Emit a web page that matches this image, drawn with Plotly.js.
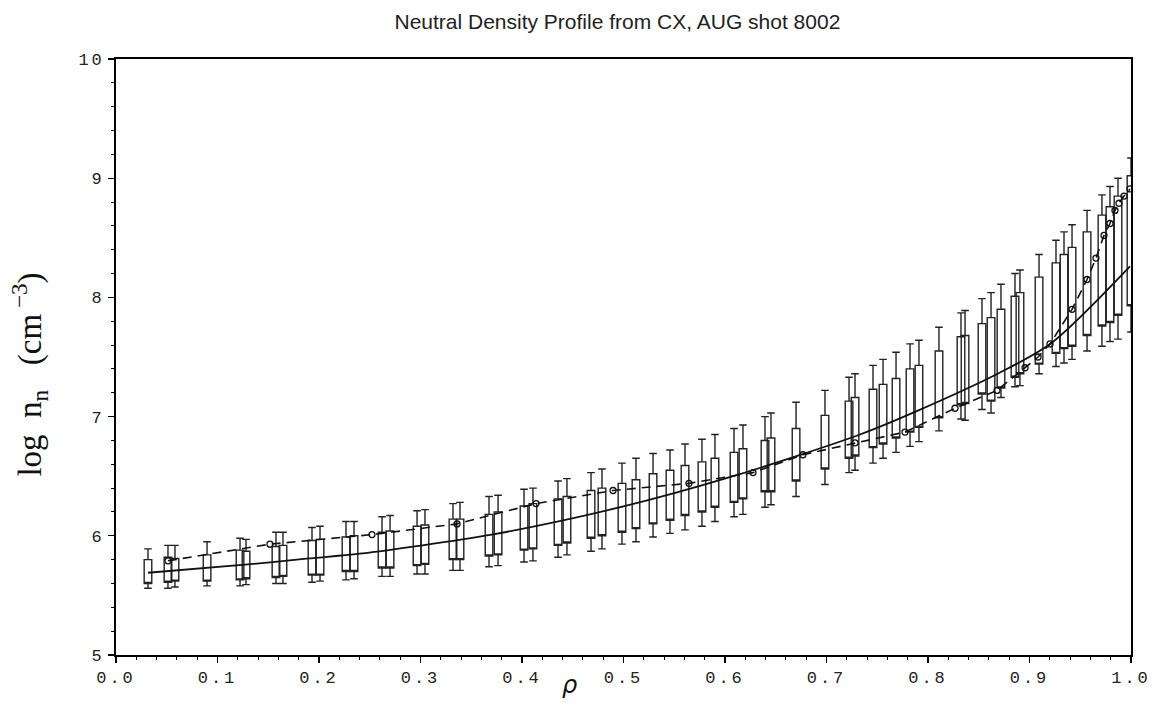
<!DOCTYPE html>
<html><head><meta charset="utf-8">
<script src="https://cdn.plot.ly/plotly-3.0.1.min.js"></script>
<style>body{margin:0;background:#fff}#chart{width:1152px;height:703px}</style>
</head><body><div id="chart"></div>
<script>
// Box positions (rho) and statistics (log n_n)
const boxRho = [0.0315,0.0512,0.0581,0.0897,0.1222,0.1281,0.1576,0.1645,0.1931,0.2010,
  0.2266,0.2345,0.2621,0.2700,0.2966,0.3044,0.3320,0.3389,0.3675,0.3764,
  0.4020,0.4108,0.4355,0.4443,0.4680,0.4788,0.4985,0.5123,0.5291,0.5458,
  0.5606,0.5773,0.5901,0.6089,0.6177,0.6394,0.6453,0.6700,0.6985,0.7222,
  0.7281,0.7458,0.7557,0.7685,0.7823,0.7911,0.8108,0.8325,0.8365,0.8532,
  0.8621,0.8719,0.8857,0.8906,0.9094,0.9261,0.9340,0.9419,0.9567,0.9714,
  0.9793,0.9872,1.0000];
const boxQ3 = [5.80,5.82,5.81,5.84,5.88,5.87,5.91,5.92,5.96,5.97,
  5.99,6.00,6.03,6.04,6.08,6.09,6.14,6.14,6.18,6.20,
  6.25,6.27,6.31,6.33,6.38,6.40,6.44,6.47,6.52,6.55,
  6.59,6.62,6.65,6.70,6.73,6.80,6.82,6.90,7.01,7.13,
  7.16,7.23,7.27,7.32,7.40,7.43,7.55,7.67,7.68,7.78,
  7.83,7.90,8.01,8.04,8.17,8.29,8.36,8.42,8.55,8.69,
  8.76,8.85,9.02];
const boxQ1 = [5.60,5.61,5.62,5.62,5.63,5.64,5.65,5.66,5.67,5.67,
  5.70,5.70,5.73,5.73,5.75,5.76,5.80,5.80,5.83,5.84,
  5.88,5.89,5.92,5.94,5.98,6.00,6.03,6.06,6.10,6.13,
  6.17,6.20,6.24,6.28,6.31,6.37,6.37,6.46,6.56,6.65,
  6.67,6.74,6.77,6.82,6.87,6.91,6.99,7.10,7.11,7.19,
  7.13,7.24,7.33,7.36,7.44,7.53,7.57,7.59,7.68,7.76,
  7.79,7.85,7.93];
const boxHi = [5.89,5.92,5.92,5.95,5.98,5.97,6.03,6.03,6.07,6.08,
  6.12,6.12,6.16,6.17,6.21,6.22,6.27,6.28,6.33,6.34,
  6.39,6.40,6.46,6.48,6.53,6.56,6.61,6.65,6.69,6.72,
  6.77,6.81,6.85,6.90,6.93,7.00,7.03,7.12,7.22,7.33,
  7.36,7.43,7.48,7.54,7.61,7.64,7.75,7.87,7.89,7.99,
  8.04,8.11,8.20,8.23,8.36,8.48,8.55,8.61,8.73,8.86,
  8.93,9.00,9.17];
const boxLo = [5.56,5.56,5.57,5.58,5.58,5.59,5.60,5.60,5.61,5.62,
  5.63,5.64,5.66,5.66,5.68,5.68,5.71,5.71,5.74,5.75,
  5.78,5.79,5.82,5.84,5.87,5.89,5.93,5.95,5.99,6.02,
  6.05,6.08,6.12,6.16,6.18,6.24,6.26,6.33,6.43,6.53,
  6.55,6.61,6.65,6.70,6.75,6.79,6.88,6.98,6.97,7.06,
  7.03,7.16,7.25,7.26,7.36,7.42,7.45,7.48,7.55,7.59,
  7.63,7.65,7.71];

// Dashed profile with circle markers
const dashRho = [0.0512,0.1517,0.2522,0.3360,0.4138,0.4897,0.5645,0.6276,0.6768,0.7281,
  0.7773,0.8266,0.8680,0.8956,0.9084,0.9202,0.9419,0.9567,0.9655,0.9734,
  0.9793,0.9842,0.9882,0.9931,0.9990];
const dashVal = [5.79,5.93,6.01,6.10,6.27,6.38,6.44,6.53,6.68,6.78,
  6.87,7.07,7.22,7.41,7.50,7.61,7.90,8.15,8.33,8.52,
  8.62,8.73,8.79,8.85,8.91];

// Solid fitted profile
const fitRho = [0.0315,0.13,0.19,0.24,0.37,0.497,0.608,0.733,0.79,0.871,0.922,0.999];
const fitVal = [5.69,5.76,5.81,5.85,6.01,6.24,6.50,6.85,7.05,7.37,7.62,8.26];

const xTickVals = [0,0.1,0.2,0.3,0.4,0.5,0.6,0.7,0.8,0.9,1.0];
const xTickText = ["0.0","0.1","0.2","0.3","0.4","0.5","0.6","0.7","0.8","0.9","1.0"];
const yTickVals = [5,6,7,8,9,10];
const yTickText = ["5","6","7","8","9","10"];

const traces = [
  {
    type: 'box', x: boxRho, q1: boxQ1, median: boxQ1, q3: boxQ3,
    lowerfence: boxLo, upperfence: boxHi,
    width: 0.0075, whiskerwidth: 1, boxpoints: false,
    fillcolor: 'rgba(0,0,0,0)', line: {color: '#222', width: 1.4},
    showlegend: false, hoverinfo: 'skip'
  },
  {
    type: 'scatter', mode: 'lines', x: fitRho, y: fitVal,
    line: {color: '#111', width: 1.8, shape: 'spline', smoothing: 0.8},
    showlegend: false
  },
  {
    type: 'scatter', mode: 'lines+markers', x: dashRho, y: dashVal,
    line: {color: '#111', width: 1.6, dash: '9px,6px'},
    marker: {symbol: 'circle-open', size: 6, color: '#111', line: {width: 1.3}},
    showlegend: false
  }
];

const tickFont = {family: 'Liberation Mono, DejaVu Sans Mono, monospace', size: 17, color: '#222'};

const layout = {
  width: 1152, height: 703,
  margin: {l: 116, r: 21, t: 59, b: 48},
  paper_bgcolor: '#fff', plot_bgcolor: '#fff',
  title: {text: 'Neutral Density Profile from CX, AUG shot 8002',
    font: {family: 'Liberation Sans, Arial, sans-serif', size: 21, color: '#222'},
    x: 0.494, xref: 'paper', y: 0.969, yanchor: 'middle', xanchor: 'center'},
  xaxis: {
    range: [0, 1], tickvals: xTickVals, ticktext: xTickText,
    ticks: 'outside', ticklen: 6, tickwidth: 1.2, tickcolor: '#000',
    tickfont: tickFont, ticklabeloverflow: 'allow',
    showline: true, linecolor: '#000', linewidth: 1.8, mirror: true,
    showgrid: false, zeroline: false,
    minor: {dtick: 0.02, ticks: 'outside', ticklen: 3, tickcolor: '#000', tickwidth: 1, showgrid: false}
  },
  yaxis: {
    range: [5, 10], tickvals: yTickVals, ticktext: yTickText,
    ticks: 'outside', ticklen: 6, tickwidth: 1.2, tickcolor: '#000',
    tickfont: tickFont, ticklabeloverflow: 'allow',
    showline: true, linecolor: '#000', linewidth: 1.8, mirror: true,
    showgrid: false, zeroline: false,
    minor: {dtick: 0.2, ticks: 'outside', ticklen: 3, tickcolor: '#000', tickwidth: 1, showgrid: false}
  },
  annotations: [
    {text: 'log  n<sub>n</sub>   (cm<sup> −3</sup>)', xref: 'paper', yref: 'paper',
     x: -0.085, y: 0.47, textangle: -90, showarrow: false,
     xanchor: 'center', yanchor: 'middle',
     font: {family: 'Liberation Serif, Times New Roman, serif', size: 33, color: '#111'}},
    {text: '<i>ρ</i>', xref: 'paper', yref: 'paper', x: 0.447, y: -0.05,
     showarrow: false, xanchor: 'center', yanchor: 'middle',
     font: {family: 'DejaVu Sans, sans-serif', size: 24, color: '#111'}}
  ],
  boxmode: 'overlay'
};

Plotly.newPlot('chart', traces, layout, {displayModeBar: false, staticPlot: true}).then(function () {
  // spread the characters of the tick labels like the typewriter-style original
  document.querySelectorAll('.xtick text, .ytick text').forEach(function (t) {
    t.style.letterSpacing = '3px';
  });
});
</script></body></html>
